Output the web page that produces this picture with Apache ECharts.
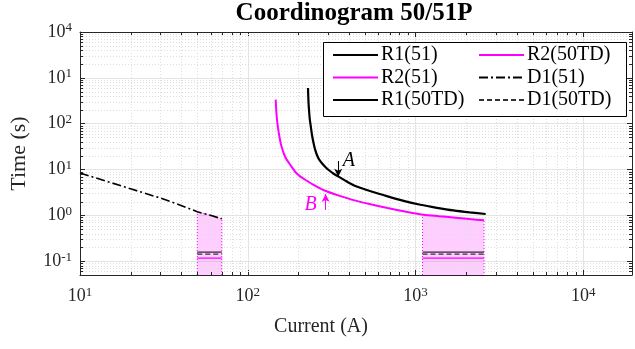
<!DOCTYPE html>
<html><head><meta charset="utf-8">
<script src="https://cdn.jsdelivr.net/npm/echarts@6/dist/echarts.min.js"></script>
<style>html,body{margin:0;padding:0;background:#fff}#c{width:635px;height:349px}</style>
</head><body><div id="c"></div>
<script>
// ---- axis limits & tick labels ----
const xMin = 10, xMax = 19500, yMin = 0.05, yMax = 10000;
const xTickValues = [10, 100, 1000, 10000];
const xTickExps = ['1', '2', '3', '4'];
const yTickValues = [0.1, 1, 10, 100, 1000, 10000];
const yTickExps = ['-1', '0', '1', '2', '1', '4'];

// ---- series data [current (A), time (s)] ----
const r1_51 = [[228.5,602],[230,300],[232.4,171],[234.5,120],[237.6,86],[241.5,56],[246.6,37.9],[251,28.5],[258,21],[266,16.6],[276,13.9],[290,11.4],[307.6,9.4],[325,8.1],[346,7.07],[385,5.6],[434,4.43],[540,3.35],[682,2.59],[860,2.05],[1069,1.70],[1340,1.46],[1679,1.28],[2100,1.16],[2618,1.07]];
const r2_51 = [[146.7,334],[148,180],[150,104],[151.5,80],[153,63.6],[155,48],[157,37.9],[160,29],[165,21],[170,16.8],[176,13.9],[184,11],[194,8.5],[205,7.1],[220,5.99],[250,4.5],[289,3.44],[350,2.7],[434,2.12],[540,1.74],[682,1.44],[880,1.2],[1119,1.03],[1380,0.96],[1679,0.90],[2100,0.83],[2560,0.78]];
const d1_51 = [[10,8.4],[20,3.8],[30,2.4],[40,1.65],[50,1.2],[60,1.0],[70,0.84]];
const tdRanges = [[50,70],[1100,2560]];
const r1_50td = 0.158, d1_50td = 0.143, r2_50td = 0.117;
const patchLeftTop = [[50,1.2],[60,1.0],[70,0.84]];
const patchRightTop = [[1100,1.04],[1380,0.96],[1679,0.90],[2100,0.83],[2560,0.78]];
const arrowA = [[346,15.3],[346,6.97]], labelA = [400,15.6];
const arrowB = [[291,1.31],[291,2.92]], labelB = [237,1.71];

const legendCol1 = ['R1(51)','R2(51)','R1(50TD)'];
const legendCol2 = ['R2(50TD)','D1(51)','D1(50TD)'];

const F = 'Liberation Serif';
const AX = '#262626';
const MAG = '#ff00ff';

function findIdx(vals, v){
  return vals.findIndex(t => Math.abs(Math.log10(v) - Math.log10(t)) < 1e-6);
}
function fmt(vals, exps){
  return v => { const i = findIdx(vals, v); return i < 0 ? '' : '{b|10}{s|' + exps[i] + '}'; };
}
const rich = {
  b: {fontFamily: F, fontSize: 18, lineHeight: 21, color: AX},
  s: {fontFamily: F, fontSize: 13, lineHeight: 13, color: AX, verticalAlign: 'top'}
};

function patch(top, range){
  return [[range[0], yMin]].concat(top, [[range[1], yMin]]);
}
function seg(range, t){ return [[range[0], t], [range[1], t]]; }

const series = [];
[patchLeftTop, patchRightTop].forEach((top, i) => {
  series.push({type:'line', data: patch(top, tdRanges[i]), symbol:'none', silent:true, z:1,
    lineStyle:{color:MAG, width:1, type:[1,2]},
    areaStyle:{color:'rgba(255,0,255,0.28)', origin:'start'}});
});
series.push({name:'R1(51)', type:'line', data:r1_51, symbol:'none', smooth:0.2,
  lineStyle:{color:'#000', width:2.2}, itemStyle:{color:'#000'}, z:3,
  markLine:{silent:true, symbol:['none','arrow'], symbolSize:[6,8], animation:false,
    lineStyle:{color:'#000', width:1, type:'solid'}, label:{show:false},
    data:[[{coord:arrowA[0]},{coord:arrowA[1]}]]},
  markPoint:{symbol:'circle', symbolSize:0, silent:true,
    label:{show:true, position:'inside', formatter:'A', fontFamily:F, fontStyle:'italic', fontSize:20, color:'#000'},
    data:[{coord:labelA}]}
});
series.push({name:'R2(51)', type:'line', data:r2_51, symbol:'none', smooth:0.2,
  lineStyle:{color:MAG, width:2}, itemStyle:{color:MAG}, z:3,
  markLine:{silent:true, symbol:['none','arrow'], symbolSize:[6,8], animation:false,
    lineStyle:{color:MAG, width:1, type:'solid'}, label:{show:false},
    data:[[{coord:arrowB[0]},{coord:arrowB[1]}]]},
  markPoint:{symbol:'circle', symbolSize:0, silent:true,
    label:{show:true, position:'inside', formatter:'B', fontFamily:F, fontStyle:'italic', fontSize:20, color:MAG},
    data:[{coord:labelB}]}
});
tdRanges.forEach(r => series.push({name:'R1(50TD)', type:'line', data:seg(r, r1_50td), symbol:'none', lineStyle:{color:'#000', width:1}, itemStyle:{color:'#000'}, z:3}));
tdRanges.forEach(r => series.push({name:'R2(50TD)', type:'line', data:seg(r, r2_50td), symbol:'none', lineStyle:{color:MAG, width:1.2}, itemStyle:{color:MAG}, z:3}));
series.push({name:'D1(51)', type:'line', data:d1_51, symbol:'none', lineStyle:{color:'#000', width:1.6, type:[9,3,2,3]}, itemStyle:{color:'#000'}, z:3});
tdRanges.forEach(r => series.push({name:'D1(50TD)', type:'line', data:seg(r, d1_50td), symbol:'none', lineStyle:{color:'#333', width:1.2, type:[5,3]}, itemStyle:{color:'#333'}, z:3}));

const legendBase = {orient:'vertical', padding:0, itemWidth:45, itemHeight:2, itemGap:0.5, top:44, z:5,
  itemStyle:{opacity:0, borderWidth:0},
  textStyle:{fontFamily:F, fontSize:20, lineHeight:22, color:'#000', padding:[0,0,0,-2]}, selectedMode:false};

const option = {
  animation:false,
  backgroundColor:'#fff',
  title:{text:'Coordinogram 50/51P', left:354, textAlign:'center', top:1, padding:0,
    textStyle:{fontFamily:F, fontWeight:'bold', fontSize:25, color:'#000'}},
  legend:[
    Object.assign({}, legendBase, {left:332, data:legendCol1}),
    Object.assign({}, legendBase, {left:478, data:legendCol2})
  ],
  grid:{left:75, right:2, top:32, bottom:74, containLabel:false},
  xAxis:[
    {type:'log', logBase:10, min:xMin, max:xMax, position:'bottom',
     name:'Current (A)', nameLocation:'middle', nameGap:42,
     nameTextStyle:{fontFamily:F, fontSize:20, color:AX, padding:[0,70,0,0]},
     axisLine:{show:true, lineStyle:{color:AX, width:1}},
     axisTick:{show:true, inside:true, length:5, lineStyle:{color:AX}},
     axisLabel:{show:true, margin:11, formatter:fmt(xTickValues, xTickExps), rich:rich, showMinLabel:true, showMaxLabel:true},
     splitLine:{show:true, lineStyle:{color:'#e4e4e4', width:1}}},
    {type:'log', logBase:10, min:xMin, max:xMax, position:'top',
     axisLine:{show:true, lineStyle:{color:AX, width:1}},
     axisTick:{show:true, inside:true, length:5, lineStyle:{color:AX}},
     axisLabel:{show:false}, splitLine:{show:false}}
  ],
  yAxis:[
    {type:'log', logBase:10, min:yMin, max:yMax, position:'left',
     name:'Time (s)', nameLocation:'middle', nameGap:50, nameRotate:90,
     nameTextStyle:{fontFamily:F, fontSize:22, color:AX},
     axisLine:{show:true, lineStyle:{color:AX, width:1}},
     axisTick:{show:true, inside:true, length:5, lineStyle:{color:AX}},
     axisLabel:{show:true, margin:8, formatter:fmt(yTickValues, yTickExps), rich:rich},
     splitLine:{show:true, lineStyle:{color:'#e4e4e4', width:1}}},
    {type:'log', logBase:10, min:yMin, max:yMax, position:'right',
     axisLine:{show:true, lineStyle:{color:AX, width:1}},
     axisTick:{show:true, inside:true, length:5, lineStyle:{color:AX}},
     axisLabel:{show:false}, splitLine:{show:false}}
  ],
  series: series
};

const chart = echarts.init(document.getElementById('c'), null, {renderer:'canvas'});
chart.setOption(option);

// minor grid + minor ticks computed through the chart's own scales
function minorVals(lo, hi){
  const out = [];
  for (let k = Math.floor(Math.log10(lo)) - 1; k <= Math.ceil(Math.log10(hi)); k++){
    for (let m = 2; m <= 9; m++){
      const v = m * Math.pow(10, k);
      if (v > lo * 1.0001 && v < hi / 1.0001) out.push(v);
    }
  }
  return out;
}
const els = [];
const p0 = chart.convertToPixel({seriesIndex:2}, [xMin, yMin]);
const p1 = chart.convertToPixel({seriesIndex:2}, [xMax, yMax]);
const L = p0[0], B = p0[1], R = p1[0], T = p1[1];
const minorStyle = {stroke:'#dedede', lineWidth:1, lineDash:[1,2]};
const tickStyle = {stroke:AX, lineWidth:1};
minorVals(xMin, xMax).forEach(v => {
  const x = Math.round(chart.convertToPixel({seriesIndex:2}, [v, 1])[0]) + 0.5;
  els.push({type:'line', silent:true, z:1, shape:{x1:x, y1:T, x2:x, y2:B}, style:minorStyle});
  els.push({type:'line', silent:true, z:6, shape:{x1:x, y1:B, x2:x, y2:B-3}, style:tickStyle});
  els.push({type:'line', silent:true, z:6, shape:{x1:x, y1:T, x2:x, y2:T+3}, style:tickStyle});
});
minorVals(yMin, yMax).forEach(v => {
  const y = Math.round(chart.convertToPixel({seriesIndex:2}, [100, v])[1]) + 0.5;
  els.push({type:'line', silent:true, z:1, shape:{x1:L, y1:y, x2:R, y2:y}, style:minorStyle});
  els.push({type:'line', silent:true, z:6, shape:{x1:L, y1:y, x2:L+3, y2:y}, style:tickStyle});
  els.push({type:'line', silent:true, z:6, shape:{x1:R, y1:y, x2:R-3, y2:y}, style:tickStyle});
});
// legend box
els.push({type:'rect', silent:true, z:4, shape:{x:323.5, y:42.5, width:303, height:74},
  style:{fill:'#fff', stroke:'#000', lineWidth:1}});
chart.setOption({graphic:{elements:els}});
</script>
</body></html>
